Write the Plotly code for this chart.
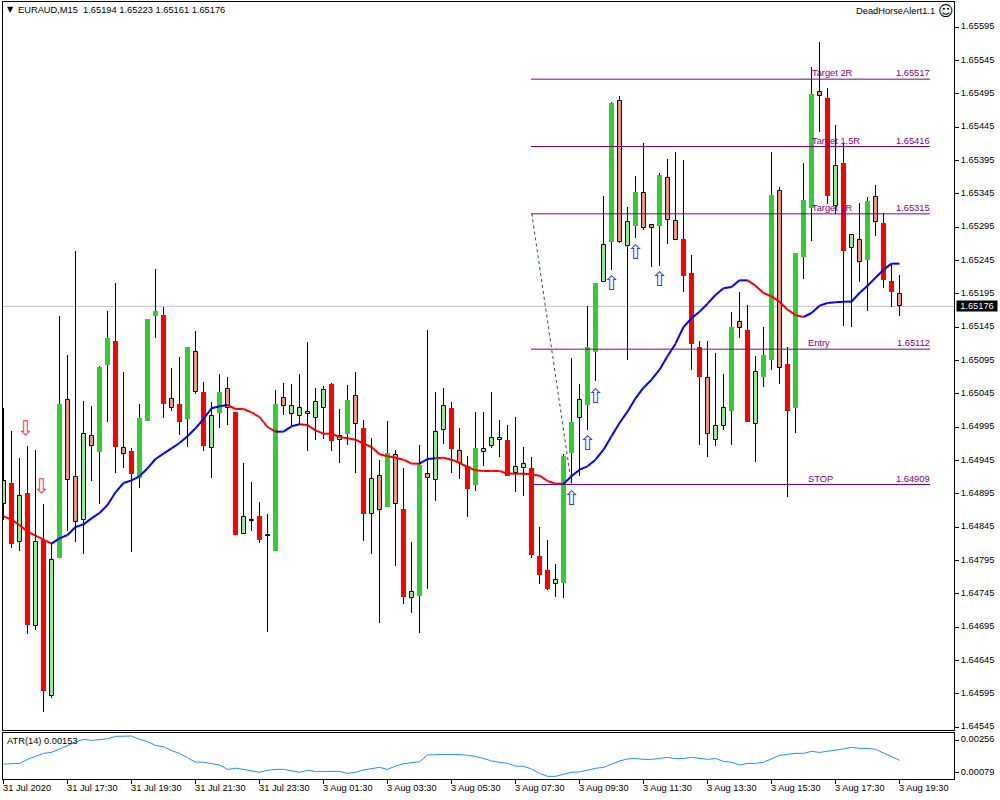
import plotly.graph_objects as go

# Prices are in points (1e-5)
OPEN = [164879,164911,164823,164896,164696,164825,164592,164799,165035,164920,
        164855,164981,164958,165088,165124,164963,164959,164919,165004,165162,
        165163,165037,165030,165007,165107,165048,164963,165016,165052,165018,
        164834,164854,164862,164832,164809,165038,165014,165012,165017,165008,
        165023,165060,164975,164985,165041,164994,164864,164921,164875,164953,
        164872,164738,164742,164924,164915,164990,165024,164959,164937,164908,
        164957,164966,164975,164976,164926,164933,164934,164802,164781,164759,
        164761,164956,165008,165028,165108,165213,165273,165484,165267,165297,
        165346,165298,165297,165368,165304,165277,165226,165115,165068,164976,
        164996,165019,165152,165141,164999,165070,165096,165349,165090,165024,
        165250,165324,165497,165489,165327,165391,165264,165275,165246,165340,
        165301,165214,165194]
HIGH = [165023,164989,164948,164967,164961,164880,164821,165162,165103,165259,
        165034,165027,165087,165169,165211,165078,164963,165030,165157,165232,
        165175,165084,165100,165115,165139,165063,165033,165075,165070,165018,
        164941,164913,164883,164865,165051,165061,165060,165075,165123,165054,
        165057,165061,165022,165058,165078,165006,164979,164946,165004,164961,
        164934,164823,164968,165140,165048,165054,165033,164994,164952,165018,
        165018,165048,165006,164998,165010,164965,164950,164845,164826,164790,
        164955,165099,165060,165177,165211,165342,165483,165492,165325,165372,
        165421,165298,165376,165397,165408,165396,165253,165124,165124,165106,
        165075,165168,165198,165178,165102,165145,165408,165355,165115,165256,
        165391,165535,165573,165504,165448,165421,165283,165331,165340,165358,
        165316,165238,165223]
LOW = [164855,164813,164809,164685,164690,164568,164588,164799,164839,164822,
       164805,164914,164880,165003,164926,164934,164808,164903,165004,165129,
       165009,165019,164983,164965,165045,164959,164919,164994,164998,164833,
       164834,164839,164821,164687,164809,165013,164997,164998,164959,164976,
       164977,164959,164941,164968,164926,164824,164805,164701,164875,164787,
       164730,164716,164686,164752,164884,164970,164926,164917,164860,164899,
       164937,164964,164950,164922,164898,164892,164799,164760,164750,164740,
       164739,164911,164921,164991,165064,165213,165231,165271,165096,165279,
       165291,165235,165237,165270,165275,165198,165081,164968,164950,164967,
       164991,164968,165129,165003,164943,165055,165080,165060,164890,164986,
       165217,165274,165438,165330,165315,165147,165145,165213,165169,165282,
       165204,165175,165161]
CLOSE = [164914,164819,164891,164698,164822,164599,164795,165030,164915,164852,
         164984,164966,165085,165129,164965,164954,164925,165009,165157,165169,
         165030,165024,165003,165115,165048,164967,165011,165048,165023,164833,
         164860,164855,164826,164833,165030,165026,165027,165023,165014,165032,
         165050,164974,164981,165036,164999,164865,164917,164870,164956,164880,
         164740,164747,164938,164919,164987,165026,164962,164941,164902,164964,
         164962,164978,164978,164922,164935,164939,164803,164773,164752,164765,
         164952,165003,165035,165115,165211,165268,165481,165273,165302,165348,
         165293,165293,165373,165305,165275,165222,165120,165070,164984,164996,
         165023,165145,165143,165003,165077,165103,165343,165084,165019,165256,
         165336,165495,165491,165342,165387,165259,165283,165242,165334,165303,
         165216,165198,165176]
# Candle class: B strong bull, L weak bull, R strong bear, S weak bear
KIND = list("LRLRLRLBSS" "LSBBRSRBBB" "RSRBSRLBSR" "LLRSBSLLSL" "LRLBSRLSBS"
            "RLBSLLRSRB" "LLLRLLRRRL" "BBLBBLBSLB" "SSBSSRRRSL" "LBSRLBBSRB"
            "BBSRLRLSBSRRS")
MA = [164861,164856,164848,164838,164832,164826,164820,164828,164833,164845,
      164849,164858,164866,164878,164897,164911,164915,164921,164933,164947,
      164955,164963,164971,164981,164993,165007,165023,165026,165028,165022,
      165022,165017,165010,164995,164988,164988,164996,164999,164998,164990,
      164985,164985,164980,164978,164976,164970,164965,164954,164951,164949,
      164946,164940,164940,164947,164948,164949,164946,164941,164935,164930,
      164929,164929,164929,164925,164925,164925,164924,164922,164914,164910,
      164910,164921,164931,164936,164946,164961,164981,165001,165018,165038,
      165054,165066,165081,165101,165120,165145,165158,165168,165180,165193,
      165203,165205,165215,165215,165207,165196,165191,165183,165171,165163,
      165160,165166,165177,165181,165182,165183,165183,165196,165207,165219,
      165231,165240,165240]
MA_RISING_RUNS = [(6, 28), (34, 37), (52, 54), (70, 93), (100, 112)]
ATR = [124,124,128,150,168,183,188,205,225,245,
       260,254,258,263,276,278,278,260,247,227,
       219,198,183,159,135,134,128,119,95,101,
       95,88,79,90,95,95,88,79,90,84,
       84,84,84,73,79,92,101,106,95,113,
       126,130,137,174,177,177,177,177,172,166,
       155,141,134,128,113,112,97,73,57,57,
       68,79,81,92,101,106,124,141,152,155,
       150,150,155,161,154,155,161,155,150,155,
       139,134,119,128,128,134,152,172,177,183,
       183,194,188,194,199,207,216,210,210,205,
       185,165,145]
LEVEL_NAMES = ["Target 2R", "Target 1.5R", "Target 1R", "Entry", "STOP"]
LEVEL_PRICES = [1.65517, 1.65416, 1.65315, 1.65112, 1.64909]
BID = 1.65176
UP_ARROW_I = [71, 73, 74, 76, 79, 82]
UP_ARROW_P = [164885, 164968, 165038, 165208, 165254, 165214]
DOWN_ARROW_I = [2.75, 4.75]
DOWN_ARROW_P = [164991, 164904]
TIME_LABELS = ["31 Jul 2020", "31 Jul 17:30", "31 Jul 19:30", "31 Jul 21:30", "31 Jul 23:30",
               "3 Aug 01:30", "3 Aug 03:30", "3 Aug 05:30", "3 Aug 07:30", "3 Aug 09:30",
               "3 Aug 11:30", "3 Aug 13:30", "3 Aug 15:30", "3 Aug 17:30", "3 Aug 19:30"]
PRICE_TICKS = [1.65595,1.65545,1.65495,1.65445,1.65395,1.65345,1.65295,1.65245,1.65195,1.65145,1.65095,
               1.65045,1.64995,1.64945,1.64895,1.64845,1.64795,1.64745,1.64695,1.64645,1.64595,1.64545]
ATR_TICKS = [0.00256, 0.00079]
assert all(len(a) == 113 for a in (OPEN, HIGH, LOW, CLOSE, KIND, MA, ATR))

FONT = "Liberation Sans"
FS = 9.3
n = len(OPEN)
idx = list(range(n))
P = 1e-5
fig = go.Figure()

# wicks
fig.add_trace(go.Bar(x=idx, base=[l*P for l in LOW], y=[(h-l)*P for h, l in zip(HIGH, LOW)],
                     width=1/8, marker=dict(color="black", line=dict(width=0.02, color="black")),
                     xaxis="x", yaxis="y"))
# bodies
STYLES = {"B": ("#32CD32", 5/8, 0), "R": ("#FF0000", 5/8, 0),
          "L": ("#90EE90", 4/8, 1), "S": ("#E9967A", 4/8, 1)}
for k, (col, w, lw) in STYLES.items():
    ii = [i for i in idx if KIND[i] == k]
    fig.add_trace(go.Bar(x=ii, base=[min(OPEN[i], CLOSE[i])*P for i in ii],
                         y=[abs(OPEN[i]-CLOSE[i])*P for i in ii], width=w,
                         marker=dict(color=col, line=dict(width=lw, color="black")),
                         xaxis="x", yaxis="y"))

# moving average, coloured by direction
blue_seg = [False]*n
for a, b in MA_RISING_RUNS:
    for i in range(a, b+1):
        blue_seg[i] = True
def runs(color_blue):
    xs, ys = [], []
    for i in range(n-1):
        seg_blue = blue_seg[i] and blue_seg[i+1]
        if seg_blue == color_blue:
            xs += [i, i+1, None]
            ys += [MA[i]*P, MA[i+1]*P, None]
    return xs, ys
for blue, col in ((False, "#FF0000"), (True, "#0000FF")):
    xs, ys = runs(blue)
    fig.add_trace(go.Scatter(x=xs, y=ys, mode="lines", line=dict(color=col, width=2),
                             connectgaps=False, xaxis="x", yaxis="y"))

# trade levels
L_START, L_END = (531-3.5)/8, (930-3.5)/8
for price in LEVEL_PRICES:
    fig.add_trace(go.Scatter(x=[L_START, L_END], y=[price-0.25*P, price-0.25*P], mode="lines",
                             line=dict(color="#800080", width=1), xaxis="x", yaxis="y"))
# dashed connector from target 1R to stop
fig.add_trace(go.Scatter(x=[L_START+0.1, 71], y=[LEVEL_PRICES[2], LEVEL_PRICES[4]], mode="lines",
                         line=dict(color="#2F4F4F", width=1, dash="3px,3px"), xaxis="x", yaxis="y"))
# signal arrows
fig.add_trace(go.Scatter(x=UP_ARROW_I, y=[p*P for p in UP_ARROW_P], mode="text", text=["\u21e7"]*len(UP_ARROW_I),
                         textposition="middle center",
                         textfont=dict(family="DejaVu Sans", size=20, color="#3030FF"), xaxis="x", yaxis="y"))
fig.add_trace(go.Scatter(x=DOWN_ARROW_I, y=[p*P for p in DOWN_ARROW_P], mode="text", text=["\u21e9"]*len(DOWN_ARROW_I),
                         textposition="middle center",
                         textfont=dict(family="DejaVu Sans", size=20, color="#FF3050"), xaxis="x", yaxis="y"))
# ATR
fig.add_trace(go.Scatter(x=idx, y=[a*P for a in ATR], mode="lines", line=dict(color="#1E90FF", width=1),
                         xaxis="x2", yaxis="y2"))

W, H = 1000, 800
XL, XR = 3, 954
x_range = [(XL-3.5)/8, (XR-3.5)/8]
TICK_STEP = 8
base_axis = dict(showgrid=False, zeroline=False, showline=True, linecolor="black", linewidth=1, mirror=True)
tick_font = dict(family=FONT, size=FS, color="black")

annotations = []
def label(x, y, text, xanchor="left", color="black", xref="paper", yref="paper", size=FS, family=FONT, **kw):
    annotations.append(dict(x=x, y=y, xref=xref, yref=yref, text=text, showarrow=False, xanchor=xanchor,
                            font=dict(family=family, size=size, color=color), **kw))
def px(x): return x/W
def py(y): return 1-y/H

label(px(15.5), py(10), "EURAUD,M15&nbsp;&nbsp;1.65194 1.65223 1.65161 1.65176", yanchor="middle")
label(px(5), py(10), "\u25bc", yanchor="middle", size=8, family="DejaVu Sans")
label(px(937), py(11), "DeadHorseAlert1.1", xanchor="right", yanchor="middle")
label(px(936), py(11), "\u263a", yanchor="middle", size=15, family="DejaVu Sans")
label(px(4.5), py(741), "ATR(14) 0.00153", yanchor="middle")
label(px(956), py(306.5), "1.65176", color="white", bgcolor="black", yanchor="middle",
      width=40, height=10, align="center", borderpad=0)

name_x = [100.8, 100.8, 100.8, 100.3, 100.3]
for name, price, nx in zip(LEVEL_NAMES, LEVEL_PRICES, name_x):
    label(nx, price, name, color="#800080", xref="x", yref="y", yanchor="bottom", yshift=-1.5)
    label(L_END, price, f"{price:.5f}", xanchor="right", color="#800080", xref="x", yref="y", yanchor="bottom", yshift=-1.5, xshift=2)

tick_idx = [i*TICK_STEP for i in range(len(TIME_LABELS))]
for ti, text in zip(tick_idx, TIME_LABELS):
    label(ti, py(788), text, xref="x2", yanchor="middle", xshift=-2.5)

fig.update_layout(
    width=W, height=H, margin=dict(l=0, r=0, t=0, b=0), autosize=False,
    paper_bgcolor="white", plot_bgcolor="white", showlegend=False, hovermode=False,
    barmode="overlay", bargap=0,
    xaxis=dict(**base_axis, domain=[px(XL), px(XR)], range=x_range, showticklabels=False, ticks="", anchor="y"),
    xaxis2=dict(**base_axis, domain=[px(XL), px(XR)], range=x_range, anchor="y2",
                tickmode="array", tickvals=tick_idx, showticklabels=False,
                ticks="outside", ticklen=4, tickcolor="black"),
    yaxis=dict(**base_axis, domain=[py(730), py(2)], range=[1.6454050, 1.6563250], side="right", anchor="x",
               tickmode="array", tickvals=PRICE_TICKS, ticktext=[f"{v:.5f}" for v in PRICE_TICKS],
               ticks="outside", ticklen=4, tickcolor="black", tickfont=tick_font, ticklabelshift=-1),
    yaxis2=dict(**base_axis, domain=[py(779), py(733)], range=[0.000423, 0.002944], side="right", anchor="x2",
                tickmode="array", tickvals=ATR_TICKS, ticktext=[f"{v:.5f}" for v in ATR_TICKS],
                ticks="outside", ticklen=4, tickcolor="black", tickfont=tick_font, ticklabelshift=-1),
    shapes=[dict(type="line", xref="x", yref="y", x0=x_range[0], x1=x_range[1], y0=BID, y1=BID,
                 line=dict(color="#C0C0C0", width=1), layer="below")],
    annotations=annotations,
)
fig.write_html("out.html", config={"displayModeBar": False},
               post_script="document.body.style.margin='0';document.documentElement.style.overflow='hidden';")
